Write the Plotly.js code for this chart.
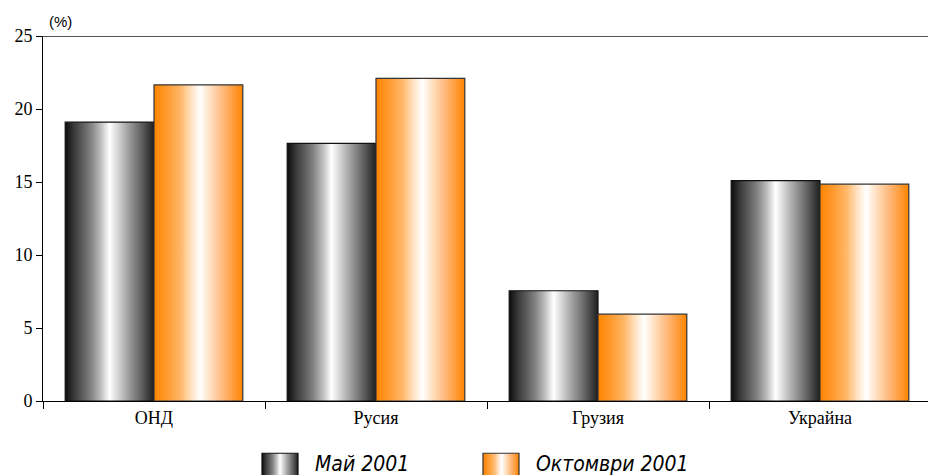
<!DOCTYPE html>
<html>
<head>
<meta charset="utf-8">
<script src="https://cdn.plot.ly/plotly-3.0.1.min.js"></script>
<style>
html,body{margin:0;padding:0;background:#fff;overflow:hidden;}
#chart{width:931px;height:475px;}
</style>
</head>
<body>
<div id="chart"></div>
<script>
// ---- data ----
var categories = ['ОНД', 'Русия', 'Грузия', 'Украйна'];
var seriesNames = ['Май 2001', 'Октомври 2001'];
var mayValues = [19.1, 17.65, 7.55, 15.1];
var octValues = [21.65, 22.1, 5.95, 14.85];
var yTickValues = [0, 5, 10, 15, 20, 25];
var yUnitLabel = '(%)';

var traces = [
  {type: 'bar', name: seriesNames[0], x: categories, y: mayValues,
   marker: {color: '#888888', line: {color: '#111111', width: 1.2}}},
  {type: 'bar', name: seriesNames[1], x: categories, y: octValues,
   marker: {color: '#ff9a30', line: {color: '#333333', width: 1.2}}}
];

var layout = {
  width: 931, height: 475,
  margin: {l: 43, r: 0, t: 36, b: 74},
  paper_bgcolor: '#ffffff', plot_bgcolor: '#ffffff',
  barmode: 'group', bargap: 0.2, bargroupgap: 0,
  showlegend: true,
  legend: {orientation: 'h', xref: 'container', yref: 'container',
           x: 275 / 931, xanchor: 'left', y: 12 / 475, yanchor: 'middle',
           entrywidth: 176, entrywidthmode: 'pixels',
           font: {family: '"DejaVu Sans Condensed", "Liberation Sans", Arial, sans-serif',
                  size: 21, style: 'italic', color: '#000'},
           traceorder: 'normal', itemclick: false, itemdoubleclick: false},
  xaxis: {type: 'category', showline: true, linecolor: '#000', linewidth: 1,
          ticks: 'outside', tickson: 'boundaries', ticklen: 7, tickcolor: '#000', tickwidth: 1,
          tickfont: {family: '"Liberation Serif", "Times New Roman", serif', size: 18, color: '#000'},
          showgrid: false, zeroline: false, fixedrange: true},
  yaxis: {range: [0, 25], tickvals: yTickValues, showline: true, linecolor: '#000', linewidth: 1,
          ticks: 'outside', ticklen: 6, tickcolor: '#000', tickwidth: 1,
          tickfont: {family: '"Liberation Serif", "Times New Roman", serif', size: 18, color: '#000'},
          showgrid: false, zeroline: false, fixedrange: true},
  shapes: [{type: 'line', xref: 'paper', yref: 'y', x0: 0, x1: 1, y0: 25, y1: 25,
            line: {color: '#555555', width: 2.2}}],
  annotations: [{text: yUnitLabel, xref: 'paper', yref: 'paper', x: 0.004, y: 1.04,
                 xanchor: 'left', yanchor: 'middle', showarrow: false,
                 font: {family: '"Liberation Sans", Arial, sans-serif', size: 15, color: '#000'}}]
};

function addGradients(gd) {
  var svg = gd.querySelector('svg.main-svg');
  var ns = 'http://www.w3.org/2000/svg';
  var defs = svg.querySelector('defs');
  if (!defs) { defs = document.createElementNS(ns, 'defs'); svg.insertBefore(defs, svg.firstChild); }
  var grads = {
    gGray: [[0, '#0c0c0c'], [0.1, '#3a3a3a'], [0.2, '#5e5e5e'], [0.3, '#868686'], [0.4, '#bdbdbd'],
            [0.5, '#ffffff'], [0.6, '#d2d2d2'], [0.7, '#a4a4a4'], [0.8, '#7a7a7a'], [0.9, '#4e4e4e'], [1, '#1e1e1e']],
    gOrange: [[0, '#ff8400'], [0.15, '#ff9b30'], [0.3, '#ffb86a'], [0.42, '#ffe2c2'], [0.52, '#ffffff'],
              [0.62, '#ffe4c8'], [0.75, '#ffc088'], [0.88, '#ffa044'], [1, '#ff8400']]
  };
  Object.keys(grads).forEach(function (id) {
    var lg = document.createElementNS(ns, 'linearGradient');
    lg.setAttribute('id', id);
    lg.setAttribute('x1', '0'); lg.setAttribute('y1', '0');
    lg.setAttribute('x2', '1'); lg.setAttribute('y2', '0');
    grads[id].forEach(function (s) {
      var st = document.createElementNS(ns, 'stop');
      st.setAttribute('offset', s[0]);
      st.setAttribute('stop-color', s[1]);
      lg.appendChild(st);
    });
    defs.appendChild(lg);
  });
  var ids = ['gGray', 'gOrange'];
  var barTraces = gd.querySelectorAll('.barlayer .trace');
  barTraces.forEach(function (t, i) {
    t.querySelectorAll('path').forEach(function (p) { p.style.fill = 'url(#' + ids[i] + ')'; });
  });
  gd.querySelectorAll('.legend .scrollbox').forEach(function (s) { s.removeAttribute('clip-path'); });
  gd.querySelectorAll('.legend').forEach(function (s) { s.removeAttribute('clip-path'); s.style.overflow = 'visible'; });
  var legTraces = gd.querySelectorAll('.legend .traces');
  legTraces.forEach(function (t, i) {
    t.querySelectorAll('.legendpoints path').forEach(function (p) {
      p.style.fill = 'url(#' + ids[i] + ')';
      p.setAttribute('transform', 'translate(5,5) scale(3,2.4)');
      p.style.strokeWidth = '0.4px';
    });
  });
}

Plotly.newPlot('chart', traces, layout, {staticPlot: true, displayModeBar: false}).then(addGradients);
</script>
</body>
</html>
